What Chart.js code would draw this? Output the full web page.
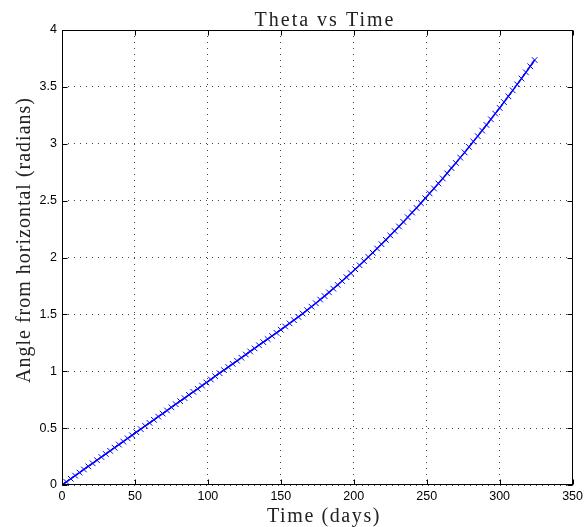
<!DOCTYPE html>
<html>
<head>
<meta charset="utf-8">
<script src="https://cdn.jsdelivr.net/npm/chart.js@4"></script>
<style>
  html, body { margin: 0; padding: 0; background: #fff; }
  #wrap { width: 587px; height: 527px; }
</style>
</head>
<body>
<div id="wrap"><canvas id="thetaChart" width="587" height="527"></canvas></div>
<script>
// time samples (days)
const days = [0,3,6,9,12,15,18,21,24,27,30,33,36,39,42,45,48,51,54,57,60,63,66,69,72,75,78,81,84,87,
  90,93,96,99,102,105,108,111,114,117,120,123,126,129,132,135,138,141,144,147,150,153,156,159,162,165,168,171,174,177,
  180,183,186,189,192,195,198,201,204,207,210,213,216,219,222,225,228,231,234,237,240,243,246,249,252,255,258,261,264,267,
  270,273,276,279,282,285,288,291,294,297,300,303,306,309,312,315,318,321,324];

// angle from horizontal (radians)
const theta = [0,0.027,0.055,0.082,0.109,0.137,0.164,0.191,0.218,0.246,0.273,0.300,0.328,0.355,0.382,0.410,0.437,0.464,0.491,0.519,
  0.546,0.573,0.601,0.628,0.655,0.683,0.710,0.737,0.764,0.792,0.819,0.846,0.874,0.901,0.928,0.956,0.983,1.010,1.037,1.065,
  1.092,1.119,1.147,1.174,1.201,1.229,1.256,1.283,1.310,1.338,1.365,1.393,1.421,1.449,1.478,1.507,1.537,1.568,1.598,1.630,
  1.661,1.694,1.726,1.759,1.793,1.827,1.862,1.897,1.932,1.968,2.005,2.042,2.079,2.117,2.155,2.194,2.233,2.273,2.313,2.354,
  2.395,2.436,2.478,2.521,2.564,2.607,2.651,2.695,2.740,2.786,2.831,2.878,2.924,2.972,3.019,3.067,3.116,3.165,3.215,3.265,
  3.315,3.366,3.417,3.469,3.522,3.574,3.628,3.681,3.736];

const xTicks = [0,50,100,150,200,250,300,350];
const yTicks = [0,0.5,1,1.5,2,2.5,3,3.5,4];

const titleText = "Theta vs Time";
const xLabel = "Time (days)";
const yLabel = "Angle from horizontal (radians)";

const points = days.map((d, i) => ({x: d, y: theta[i]}));

// box, inward ticks and the serif labels, MATLAB style
const matlabFrame = {
    id: "matlabFrame",
    afterDraw(chart) {
        const {ctx, chartArea: a, scales} = chart;
        const L = Math.round(a.left) + 0.5, R = Math.round(a.right) - 0.5;
        const T = Math.round(a.top) + 0.5, B = Math.round(a.bottom) - 0.5;
        ctx.save();
        ctx.strokeStyle = "#000";
        ctx.lineWidth = 1;
        ctx.setLineDash([]);
        ctx.strokeRect(L, T, R - L, B - T);
        ctx.beginPath();
        xTicks.forEach(v => {
            const px = Math.round(scales.x.getPixelForValue(v)) + 0.5;
            ctx.moveTo(px, B); ctx.lineTo(px, B - 5);
            ctx.moveTo(px, T); ctx.lineTo(px, T + 5);
        });
        yTicks.forEach(v => {
            const py = Math.round(scales.y.getPixelForValue(v)) + 0.5;
            ctx.moveTo(L, py); ctx.lineTo(L + 5, py);
            ctx.moveTo(R, py); ctx.lineTo(R - 5, py);
        });
        ctx.stroke();

        ctx.fillStyle = "#222";
        ctx.font = "20px 'Liberation Serif'";
        ctx.textAlign = "center";
        ctx.textBaseline = "alphabetic";
        ctx.letterSpacing = "2px";
        ctx.fillText(titleText, 325, 26);
        ctx.letterSpacing = "1.6px";
        ctx.fillText(xLabel, 324, 522);
        ctx.translate(30, 240);
        ctx.rotate(-Math.PI / 2);
        ctx.letterSpacing = "1px";
        ctx.fillText(yLabel, 0, 0);
        ctx.letterSpacing = "0px";
        ctx.restore();
    }
};

const tickFont = {family: "'Liberation Sans', Arial, sans-serif", size: 12.5};

new Chart(document.getElementById("thetaChart"), {
    type: "line",
    data: {
        datasets: [{
            data: points,
            borderColor: "#0000ff",
            backgroundColor: "#0000ff",
            borderWidth: 1.5,
            pointStyle: "crossRot",
            pointRadius: 4,
            pointBorderWidth: 1,
            pointBorderColor: "#0000ff",
            tension: 0,
            fill: false
        }]
    },
    options: {
        responsive: false,
        animation: false,
        events: [],
        layout: {padding: {top: 30, right: 14, left: 0, bottom: 0}},
        plugins: {legend: {display: false}, title: {display: false}, tooltip: {enabled: false}},
        scales: {
            x: {
                type: "linear",
                min: 0, max: 350,
                afterFit(s) { s.height = 42; },
                afterBuildTicks(s) { s.ticks = xTicks.map(v => ({value: v})); },
                ticks: {color: "#000", font: tickFont, padding: 4, maxRotation: 0, callback: v => String(v)},
                grid: {color: "#444", lineWidth: 1, drawTicks: false},
                border: {display: false, dash: [1, 5]}
            },
            y: {
                type: "linear",
                min: 0, max: 4,
                afterFit(s) { s.width = 62; },
                afterBuildTicks(s) { s.ticks = yTicks.map(v => ({value: v})); },
                ticks: {color: "#000", font: tickFont, padding: 5, callback: v => String(v)},
                grid: {color: "#444", lineWidth: 1, drawTicks: false},
                border: {display: false, dash: [1, 5]}
            }
        }
    },
    plugins: [matlabFrame]
});
</script>
</body>
</html>
